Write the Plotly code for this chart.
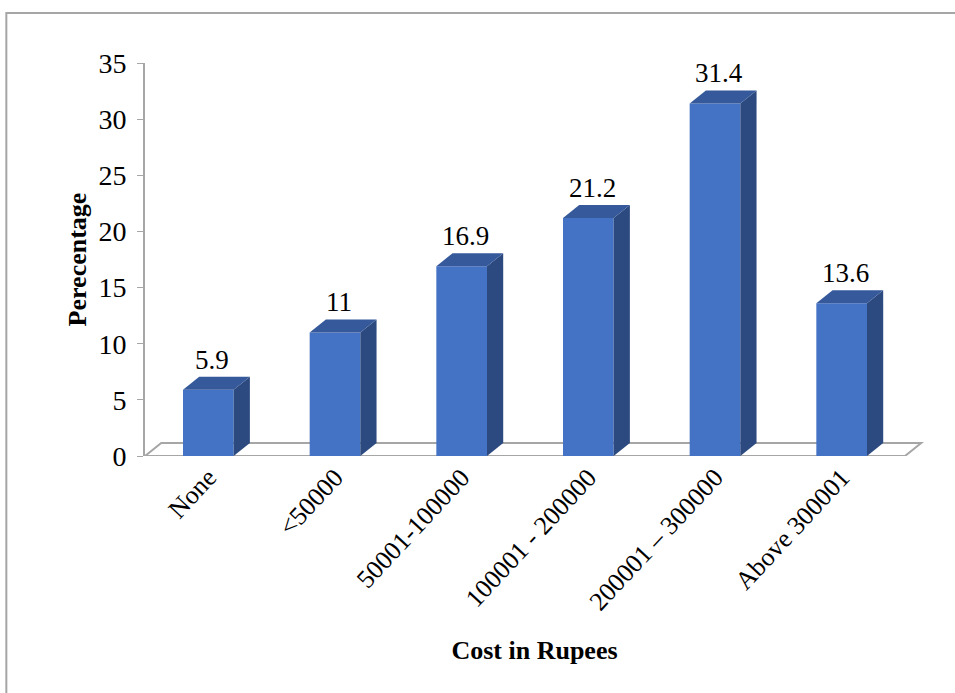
import plotly.graph_objects as go

categories = ["None", "<50000", "50001-100000", "100001 - 200000", "200001 \u2013 300000", "Above 300001"]
values = [5.9, 11, 16.9, 21.2, 31.4, 13.6]
y_ticks = [0, 5, 10, 15, 20, 25, 30, 35]

FRONT = "#4472C4"
SIDE = "#2C4A7F"
TOP = "#35599A"
GRID = "#A6A6A6"
FONT = "Liberation Serif, Times New Roman, serif"

BAR_W = 0.4
DX = 0.128   # depth offset in category units
DY = 1.16    # depth offset in value units

xs = list(range(len(categories)))

fig = go.Figure()
fig.add_trace(go.Bar(
    x=xs, y=values, width=BAR_W,
    marker=dict(color=FRONT, line=dict(width=0)),
    hoverinfo="skip", showlegend=False,
))

shapes = []
# floor
x_lo, x_hi = -0.5, len(categories) - 0.5
shapes.append(dict(
    type="path", xref="x", yref="y", layer="below",
    path=f"M {x_lo},0 L {x_hi},0 L {x_hi+DX},{DY} L {x_lo+DX},{DY} Z",
    fillcolor="white", line=dict(color=GRID, width=2),
))
for x, v in zip(xs, values):
    xl, xr = x - BAR_W / 2, x + BAR_W / 2
    shapes.append(dict(
        type="path", xref="x", yref="y", layer="above",
        path=f"M {xr},0 L {xr+DX},{DY} L {xr+DX},{v+DY} L {xr},{v} Z",
        fillcolor=SIDE, line=dict(width=0),
    ))
    shapes.append(dict(
        type="path", xref="x", yref="y", layer="above",
        path=f"M {xl},{v} L {xr},{v} L {xr+DX},{v+DY} L {xl+DX},{v+DY} Z",
        fillcolor=TOP, line=dict(width=0),
    ))

# outer border
shapes.append(dict(
    type="rect", xref="paper", yref="paper",
    x0=-0.178, x1=1.3, y0=-1.0, y1=1.127,
    line=dict(color=GRID, width=2), fillcolor="rgba(0,0,0,0)", layer="below",
))

annotations = []
for x, v in zip(xs, values):
    annotations.append(dict(
        x=x + DX / 4, y=v + DY, xref="x", yref="y",
        text=f"{v:g}", showarrow=False, yanchor="bottom", yshift=0,
        font=dict(family=FONT, size=27, color="black"),
    ))

fig.update_layout(
    width=955, height=693,
    margin=dict(l=145, r=31, t=63, b=237, autoexpand=False),
    paper_bgcolor="white", plot_bgcolor="rgba(0,0,0,0)",
    shapes=shapes, annotations=annotations,
    font=dict(family=FONT, size=26, color="black"),
    xaxis=dict(
        range=[-0.5, len(categories) - 0.5 + 0.15],
        tickmode="array", tickvals=xs, ticktext=categories,
        tickangle=-47, showgrid=False, zeroline=False, showline=False,
        ticks="", tickfont=dict(family=FONT, size=26),
        title=dict(text="<b>Cost in Rupees</b>", standoff=25,
                   font=dict(family=FONT, size=26)),
        automargin=False,
    ),
    yaxis=dict(
        range=[0, 35], tickmode="array", tickvals=y_ticks,
        showgrid=False, zeroline=False, showline=True, linecolor=GRID, linewidth=2,
        ticks="outside", ticklen=6, tickcolor=GRID, tickwidth=1,
        ticklabelstandoff=5,
        tickfont=dict(family=FONT, size=28),
        title=dict(text="<b>Perecentage</b>", standoff=4,
                   font=dict(family=FONT, size=26)),
        automargin=False,
    ),
    bargap=0.6,
)

fig.write_html("out.html")
